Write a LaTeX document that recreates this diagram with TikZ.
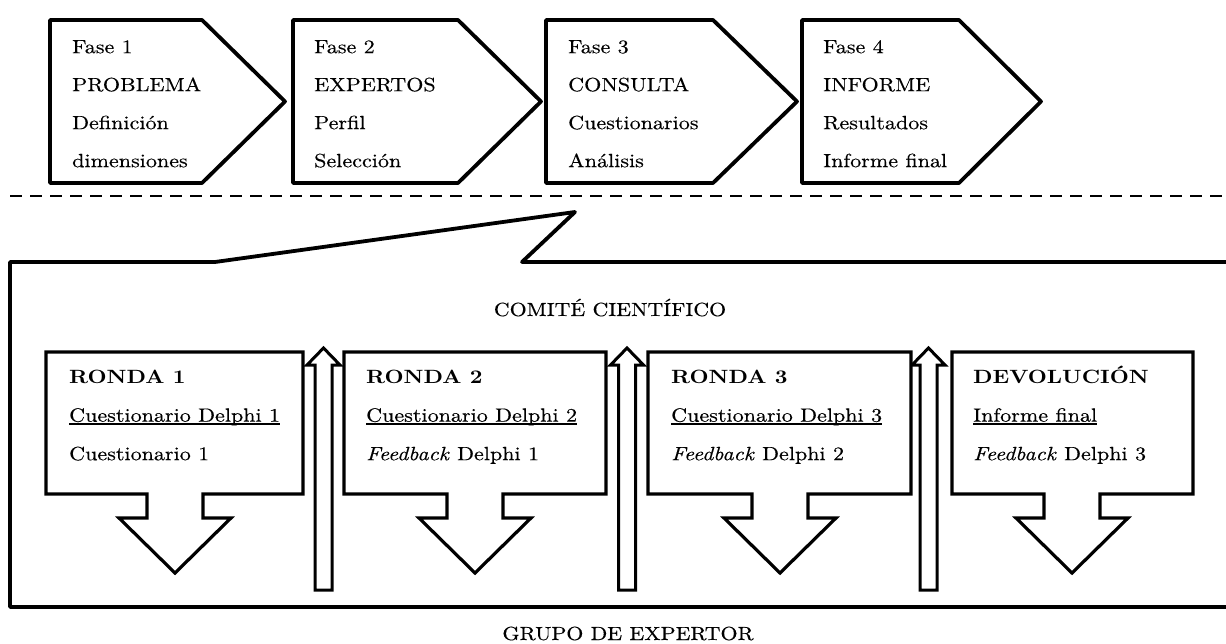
\documentclass[tikz,border=0pt]{standalone}
\usepackage{fontspec}
\setmainfont{lmroman10}[Extension=.otf,UprightFont=*-regular,BoldFont=*-bold,ItalicFont=*-italic,BoldItalicFont=*-bolditalic,FakeStretch=1.15,UprightFeatures={FakeBold=0.35},ItalicFeatures={FakeBold=0.35}]
\newsavebox\wulbox
\newcommand\wul[1]{\sbox\wulbox{#1}\rlap{\rule[-3.2pt]{\wd\wulbox}{1.5pt}}\usebox\wulbox}
\begin{document}
\begin{tikzpicture}[x=1pt,y=-1pt,
  pent/.style={draw=black,line width=3.8pt,line join=round,fill=white},
  callout/.style={draw=black,line width=3.8pt,line join=round},
  rbox/.style={draw=black,line width=3.2pt,line join=miter,fill=white},
  upar/.style={draw=black,line width=3pt,line join=miter,fill=white},
  dashline/.style={draw=black,line width=2.4pt,dash pattern=on 12pt off 8pt},
  ptxt/.style={inner sep=0pt,align=left,anchor=north west,font=\fontsize{19.2}{38}\selectfont},
  rtxt/.style={inner sep=0pt,align=left,anchor=north west,font=\fontsize{19.2}{38.5}\selectfont},
  lbl/.style={inner sep=0pt,anchor=base,font=\fontsize{19}{22}\selectfont}]
\useasboundingbox (0,0) rectangle (1226,644);
\fill[white] (0,0) rectangle (1226,644);

% phases
\foreach \L/\C/\T in {50/202/285, 293/458/541, 546/713/797, 802/959/1041} {
  \draw[pent] (\L,20) -- (\C,20) -- (\T,101.5) -- (\C,183) -- (\L,183) -- cycle;
}
\node[ptxt] (f1) at (72,33) {\rule{0pt}{20pt}Fase 1\\PROBLEMA\\Definición\\dimensiones};
\node[ptxt] (f2) at (314,33) {\rule{0pt}{20pt}Fase 2\\EXPERTOS\\Perfil\\Selección};
\node[ptxt] (f3) at (568,33) {\rule{0pt}{20pt}Fase 3\\CONSULTA\\Cuestionarios\\Análisis};
\node[ptxt] (f4) at (823,33) {\rule{0pt}{20pt}Fase 4\\INFORME\\Resultados\\Informe final};

% dashed separator
\coordinate (dashL) at (10,196);
\coordinate (dashR) at (1226,196);
\draw[dashline] (dashL) -- (dashR);

% callout frame
\draw[callout] (1230,262) -- (522,262) -- (575,212) -- (215,262) -- (10,262) -- (10,607) -- (1230,607);

\node[lbl] (comite) at (610,316) {COMITÉ CIENTÍFICO};
\node[lbl] (grupo) at (628,640) {GRUPO DE EXPERTOR};

% up arrows
\foreach \c in {323.5,627,928.5} {
  \draw[upar] (\c-8.5,590) -- (\c-8.5,365) -- (\c-16.5,365) -- (\c,348) -- (\c+16.5,365) -- (\c+8.5,365) -- (\c+8.5,590) -- cycle;
}

% round boxes with down arrows
\foreach \l/\r/\m in {46/303/175, 344/606/475, 648/911/780, 952/1193/1072} {
  \draw[rbox] (\l,352) -- (\r,352) -- (\r,494) -- (\m+28,494) -- (\m+28,518) -- (\m+56,518) -- (\m,573) -- (\m-56,518) -- (\m-28,518) -- (\m-28,494) -- (\l,494) -- cycle;
}
\node[rtxt] (r1) at (69,363) {\rule{0pt}{20pt}\textbf{RONDA 1}\\\wul{Cuestionario Delphi 1}\\Cuestionario 1};
\node[rtxt] (r2) at (366,363) {\rule{0pt}{20pt}\textbf{RONDA 2}\\\wul{Cuestionario Delphi 2}\\\textit{Feedback} Delphi 1};
\node[rtxt] (r3) at (671,363) {\rule{0pt}{20pt}\textbf{RONDA 3}\\\wul{Cuestionario Delphi 3}\\\textit{Feedback} Delphi 2};
\node[rtxt] (r4) at (973,363) {\rule{0pt}{20pt}\textbf{DEVOLUCIÓN}\\\wul{Informe final}\\\textit{Feedback} Delphi 3};
\end{tikzpicture}
\end{document}
